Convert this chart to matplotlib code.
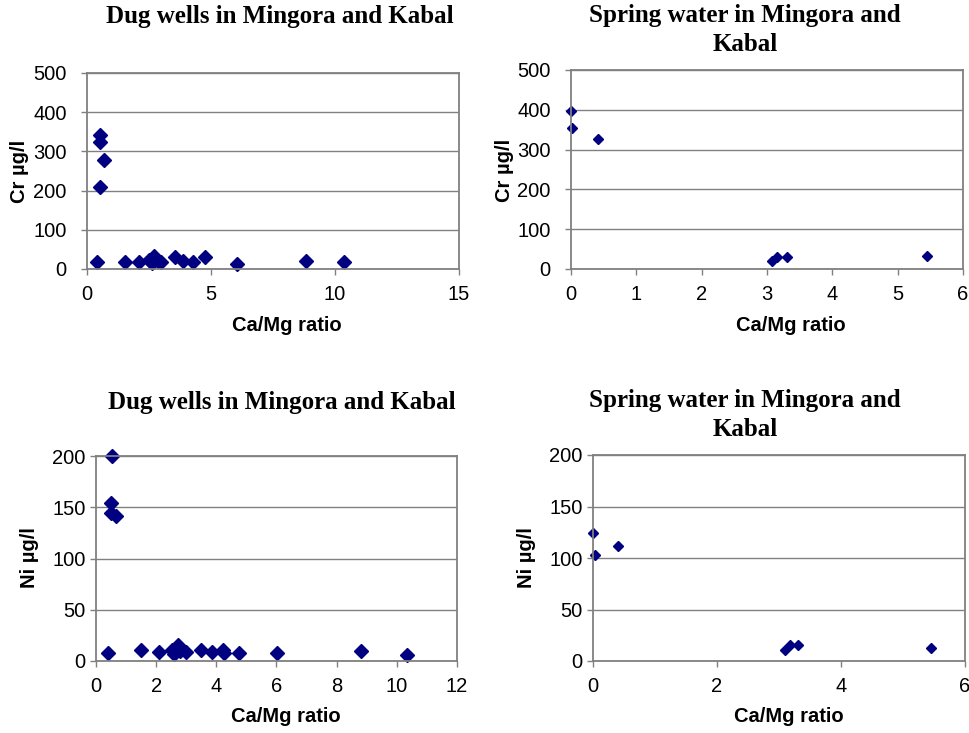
import matplotlib
matplotlib.use("Agg")
import matplotlib.pyplot as plt

# ---- data ----
cr_dug_x = [0.40, 0.51, 0.54, 0.54, 0.69, 1.55, 2.10, 2.50, 2.62, 2.72, 2.85, 3.00,
            3.53, 3.88, 4.29, 4.77, 6.03, 8.82, 10.35]
cr_dug_y = [17, 208, 343, 323, 279, 17, 19, 24, 15, 32, 20, 19,
            31, 20, 19, 31, 14, 21, 17]

ni_dug_x = [0.40, 0.53, 0.49, 0.50, 0.65, 1.51, 2.09, 2.52, 2.59, 2.72, 2.79, 2.99,
            3.50, 3.86, 4.23, 4.25, 4.77, 6.02, 8.80, 10.34]
ni_dug_y = [7.8, 200, 154, 144, 141, 10.4, 8.8, 11, 7, 15.6, 9.8, 8.5,
            10.4, 8.5, 11, 8, 7.5, 7.8, 10, 5.5]

cr_spring_x = [0.0, 0.02, 0.41, 3.08, 3.16, 3.30, 5.45]
cr_spring_y = [397, 355, 326, 19, 31, 29, 33]

ni_spring_x = [0.0, 0.03, 0.41, 3.10, 3.17, 3.30, 5.45]
ni_spring_y = [124, 103, 111.5, 11, 15.5, 15.5, 12.3]

title_dug = "Dug wells in Mingora and Kabal"
title_spring = "Spring water in Mingora and\nKabal"
xlabel = "Ca/Mg ratio"
ylabel_cr = "Cr µg/l"
ylabel_ni = "Ni µg/l"

W, H = 970, 733
fig = plt.figure(figsize=(W / 100, H / 100), dpi=100)

navy = "#000080"
gray = "#808080"
tick_font = "Liberation Sans"


def px_axes(left, top, right, bottom):
    return fig.add_axes([left / W, 1 - bottom / H, (right - left) / W, (bottom - top) / H])


def style(ax, xlim, xticks, ylim, yticks, ypad, xpad):
    ax.set_xlim(*xlim)
    ax.set_ylim(*ylim)
    ax.set_xticks(xticks)
    ax.set_yticks(yticks)
    ax.set_xticklabels([str(t) for t in xticks], fontfamily=tick_font, fontsize=14.5)
    ax.set_yticklabels([str(t) for t in yticks], fontfamily=tick_font, fontsize=14.5)
    for s in ax.spines.values():
        s.set_color(gray)
        s.set_linewidth(1.3)
    ax.tick_params(axis="both", direction="out", length=4.5, width=1, color=gray)
    ax.tick_params(axis="x", pad=xpad)
    ax.tick_params(axis="y", pad=ypad)
    ax.grid(axis="y", color=gray, linewidth=1)
    ax.set_axisbelow(True)
    ax.set_facecolor("white")


def txt(x, y, s, **kw):
    fig.text(x / W, 1 - y / H, s, **kw)


title_kw = dict(fontfamily="Liberation Serif", fontweight="bold", fontsize=18,
                ha="center", va="center", linespacing=1.3)
lab_kw = dict(fontfamily=tick_font, fontweight="bold", fontsize=14.5, ha="center", va="center")

# top-left
ax1 = px_axes(87, 73, 459, 269)
ax1.plot(cr_dug_x, cr_dug_y, "D", color=navy, markersize=7.3, linestyle="none", clip_on=False)
style(ax1, (0, 15), [0, 5, 10, 15], (0, 500), [0, 100, 200, 300, 400, 500], 10, 7)
txt(280, 16, title_dug, **title_kw)
txt(287, 326, xlabel, **lab_kw)
txt(20, 171, ylabel_cr, rotation=90, **lab_kw)

# top-right
ax2 = px_axes(571, 70, 963, 269)
ax2.plot(cr_spring_x, cr_spring_y, "D", color=navy, markersize=5.5, linestyle="none", clip_on=False)
style(ax2, (0, 6), [0, 1, 2, 3, 4, 5, 6], (0, 500), [0, 100, 200, 300, 400, 500], 10, 7)
txt(745, 30, title_spring, **title_kw)
txt(791, 326, xlabel, **lab_kw)
txt(505, 170, ylabel_cr, rotation=90, **lab_kw)

# bottom-left
ax3 = px_axes(96, 456, 457, 661)
ax3.plot(ni_dug_x, ni_dug_y, "D", color=navy, markersize=7.3, linestyle="none", clip_on=False)
style(ax3, (0, 12), [0, 2, 4, 6, 8, 10, 12], (0, 200), [0, 50, 100, 150, 200], 3, 7)
txt(282, 402, title_dug, **title_kw)
txt(286, 717, xlabel, **lab_kw)
txt(30, 558, ylabel_ni, rotation=90, **lab_kw)

# bottom-right
ax4 = px_axes(593, 455, 965, 661)
ax4.plot(ni_spring_x, ni_spring_y, "D", color=navy, markersize=5.5, linestyle="none", clip_on=False)
style(ax4, (0, 6), [0, 2, 4, 6], (0, 200), [0, 50, 100, 150, 200], 3, 7)
txt(745, 415, title_spring, **title_kw)
txt(789, 717, xlabel, **lab_kw)
txt(527, 558, ylabel_ni, rotation=90, **lab_kw)

fig.savefig("out.png", dpi=100, facecolor="white")
